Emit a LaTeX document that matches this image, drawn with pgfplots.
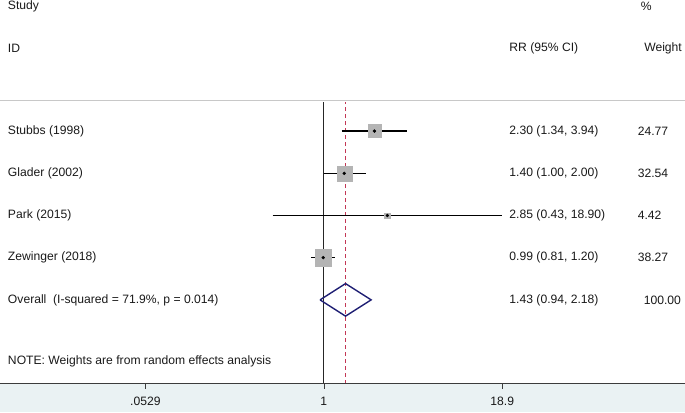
\documentclass[border=0pt]{standalone}
\usepackage{fontspec}
\setmainfont{Liberation Sans}
\usepackage{pgfplots}
\pgfplotsset{compat=1.18}
\usepackage{pgfplotstable}
\definecolor{bandcol}{RGB}{234,242,243}
\definecolor{toplinecol}{RGB}{200,200,200}
\definecolor{boxcol}{RGB}{180,180,180}
\definecolor{diacol}{RGB}{30,30,115}
\definecolor{dashcol}{RGB}{195,55,85}
\definecolor{axcol}{RGB}{60,60,60}
\definecolor{txtcol}{RGB}{25,25,25}
\pgfplotstableread{
rr   lo   hi    w     y
2.30 1.34 3.94  24.77 5
1.40 1.00 2.00  32.54 4
2.85 0.43 18.90 4.42  3
0.99 0.81 1.20  38.27 2
}\studies
\newcommand{\fs}{\fontsize{12.2}{14}\selectfont}
\tikzset{txt/.style={anchor=west, inner sep=0pt, font=\fs, text=txtcol}}
\begin{document}
\begin{tikzpicture}
\begin{axis}[
  width=685bp, height=384.3bp, scale only axis,
  xmode=log, xmin=0.004867, xmax=380.1,
  ymin=-0.988, ymax=8.108,
  axis on top, clip=false,
  axis x line*=bottom, hide y axis,
  x axis line style={-, draw=axcol, line width=0.8pt},
  xtick={0.0529,1,18.9}, xticklabels={.0529,1,18.9},
  tick align=outside, major tick length=5bp,
  xtick style={draw=axcol, line width=0.6pt},
  xticklabel style={font=\fs, text=txtcol, yshift=-4.5bp},
  /pgf/number format/assume math mode=true,
]
% background band below axis
\fill[bandcol] (rel axis cs:0,0) rectangle ([yshift=-28.7bp]rel axis cs:1,0);
\path (rel axis cs:0,1) -- (rel axis cs:1,1);
% top separator line
\addplot[toplinecol, line width=1pt] coordinates {(0.004867,5.724) (380.1,5.724)};
% null line and overall line
\addplot[black!85, line width=1pt] coordinates {(1,-0.988) (1,5.70)};
\addplot[dashcol, line width=1.1pt, dash pattern=on 4bp off 3bp] coordinates {(1.43,-0.988) (1.43,5.70)};
% weight boxes
\addplot[scatter, only marks, mark=square*,
  scatter/use mapped color={draw=boxcol, fill=boxcol},
  visualization depends on={8.2*sqrt(\thisrow{w}/38.27) \as \msize},
  scatter/@pre marker code/.append style={/tikz/mark size=\msize}]
  table[x=rr, y=y]{\studies};
% confidence intervals
\addplot[black, line width=1.3pt] coordinates {(1.34,5) (3.94,5)};
\addplot[black, line width=1.3pt] coordinates {(1.00,4) (2.00,4)};
\addplot[black, line width=1.3pt] coordinates {(0.43,3) (18.90,3)};
\addplot[black, line width=1.3pt] coordinates {(0.81,2) (1.20,2)};
% point estimates
\addplot[only marks, mark=*, mark size=1.5bp, black] table[x=rr, y=y]{\studies};
% overall diamond
\addplot[diacol, line width=1.4pt] coordinates {(0.94,1) (1.43,1.386) (2.18,1) (1.43,0.614) (0.94,1)};
% text
\node[txt] at (axis cs:0.005489,7.954) {Study};
\node[txt] at (axis cs:0.005489,6.96) {ID};
\node[txt] at (axis cs:21.21,6.96) {RR (95\% CI)};
\node[txt] at (axis cs:184.4,7.954) {\%};
\node[txt] at (axis cs:195.3,6.96) {Weight};
\node[txt] at (axis cs:0.005489,5) {Stubbs (1998)};
\node[txt] at (axis cs:0.005489,4) {Glader (2002)};
\node[txt] at (axis cs:0.005489,3) {Park (2015)};
\node[txt] at (axis cs:0.005489,2) {Zewinger (2018)};
\node[txt] at (axis cs:0.005489,1) {Overall\ \ (I-squared = 71.9\%, p = 0.014)};
\node[txt] at (axis cs:0.005489,-0.46) {NOTE: Weights are from random effects analysis};
\node[txt] at (axis cs:21.21,5) {2.30 (1.34, 3.94)};
\node[txt] at (axis cs:21.21,4) {1.40 (1.00, 2.00)};
\node[txt] at (axis cs:21.21,3) {2.85 (0.43, 18.90)};
\node[txt] at (axis cs:21.21,2) {0.99 (0.81, 1.20)};
\node[txt] at (axis cs:21.21,1) {1.43 (0.94, 2.18)};
\node[txt] at (axis cs:175.5,5) {24.77};
\node[txt] at (axis cs:175.5,4) {32.54};
\node[txt] at (axis cs:175.5,3) {4.42};
\node[txt] at (axis cs:175.5,2) {38.27};
\node[txt] at (axis cs:193.7,1) {100.00};
\end{axis}
\end{tikzpicture}
\end{document}
